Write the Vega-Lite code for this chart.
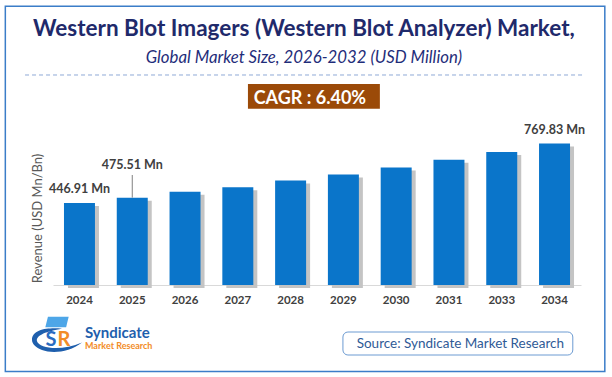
{
  "$schema": "https://vega.github.io/schema/vega-lite/v6.json",
  "width": 528,
  "height": 147,
  "autosize": {"type": "none"},
  "padding": {"left": 53, "top": 138, "right": 31, "bottom": 92},
  "background": "white",
  "config": {"view": {"stroke": null}, "font": "Lato"},
  "data": {
    "values": [
      {"year": "2024", "value": 446.91, "label": "446.91 Mn"},
      {"year": "2025", "value": 475.51, "label": "475.51 Mn"},
      {"year": "2026", "value": 507},
      {"year": "2027", "value": 532},
      {"year": "2028", "value": 569},
      {"year": "2029", "value": 601},
      {"year": "2030", "value": 640},
      {"year": "2031", "value": 681},
      {"year": "2033", "value": 724},
      {"year": "2034", "value": 769.83, "label": "769.83 Mn"}
    ]
  },
  "encoding": {
    "x": {
      "field": "year", "type": "nominal",
      "scale": {"domain": ["2024","2025","2026","2027","2028","2029","2030","2031","2033","2034"], "paddingInner": 0.413, "paddingOuter": 0.208},
      "axis": {"title": null, "labelAngle": 0, "labelFont": "Lato", "labelFontSize": 11.5, "labelFontWeight": "bold", "labelColor": "#404040", "ticks": false, "domainColor": "#d9d9d9", "labelPadding": 9, "grid": false}
    },
    "y": {
      "field": "value", "type": "quantitative",
      "scale": {"domain": [0, 800], "nice": false},
      "axis": {"title": "Revenue (USD Mn/Bn)", "labels": false, "ticks": false, "domain": false, "grid": false, "titleFont": "Lato", "titleFontSize": 13, "titleFontWeight": "normal", "titleColor": "#595959", "titleX": -16, "titleY": 80, "titleAngle": 270, "titleAlign": "center", "titleBaseline": "middle"}
    }
  },
  "layer": [
    {"mark": {"type": "bar", "color": "#c4c4c4", "xOffset": 4, "yOffset": 3}},
    {"mark": {"type": "bar", "color": "#0a75ca"}},
    {
      "transform": [{"filter": {"field": "year", "oneOf": ["2024", "2034"]}}],
      "mark": {"type": "text", "font": "Lato", "fontSize": 12.5, "fontWeight": "bold", "color": "#404040", "baseline": "alphabetic", "dy": -9.5},
      "encoding": {"text": {"field": "label"}}
    },
    {
      "transform": [{"filter": {"field": "year", "equal": "2025"}}],
      "mark": {"type": "text", "font": "Lato", "fontSize": 12.5, "fontWeight": "bold", "color": "#404040", "baseline": "alphabetic", "dy": -28.5},
      "encoding": {"text": {"field": "label"}}
    },
    {
      "transform": [{"filter": {"field": "year", "equal": "2025"}}],
      "mark": {"type": "rule", "color": "#808080", "strokeWidth": 1},
      "encoding": {"y2": {"datum": 598.6}}
    },
    {
      "transform": [{"filter": {"field": "year", "equal": "2024"}}],
      "mark": {"type": "rect", "fill": "transparent", "stroke": "#3b7dc8", "strokeWidth": 1.5},
      "encoding": {
        "x": {"datum": "2024", "type": "nominal", "bandPosition": -1.893},
        "x2": {"datum": "2034", "bandPosition": 2.123},
        "y": {"datum": 1516.7, "type": "quantitative"},
        "y2": {"datum": -470.8}
      }
    },
    {
      "transform": [{"filter": {"field": "year", "equal": "2024"}}],
      "mark": {"type": "text", "font": "Lato", "fontSize": 22.5, "fontWeight": "bold", "color": "#1f2a6b", "align": "center", "baseline": "alphabetic"},
      "encoding": {
        "x": {"datum": "2028", "type": "nominal", "bandPosition": 0.93},
        "y": {"datum": 1355, "type": "quantitative"},
        "text": {"value": "Western Blot Imagers (Western Blot Analyzer) Market,"}
      }
    },
    {
      "transform": [{"filter": {"field": "year", "equal": "2024"}}],
      "mark": {"type": "text", "font": "Lato", "fontSize": 16.8, "fontStyle": "italic", "color": "#1f2d7a", "align": "center", "baseline": "alphabetic"},
      "encoding": {
        "x": {"datum": "2028", "type": "nominal", "bandPosition": 0.93},
        "y": {"datum": 1208, "type": "quantitative"},
        "text": {"value": "Global Market Size, 2026-2032 (USD Million)"}
      }
    },
    {
      "transform": [{"filter": {"field": "year", "equal": "2024"}}],
      "mark": {"type": "rule", "color": "#8fa9d6", "strokeWidth": 1, "strokeDash": [4, 3]},
      "encoding": {
        "x": {"datum": "2024", "type": "nominal", "bandPosition": -1.257},
        "x2": {"datum": "2034", "bandPosition": 1.414},
        "y": {"datum": 1142.9, "type": "quantitative"}
      }
    },
    {
      "transform": [{"filter": {"field": "year", "equal": "2024"}}],
      "mark": {"type": "rect", "fill": "#9b4a08"},
      "encoding": {
        "x": {"datum": "2028", "type": "nominal", "bandPosition": -0.877},
        "x2": {"datum": "2028", "bandPosition": 3.381},
        "y": {"datum": 1093.9, "type": "quantitative"},
        "y2": {"datum": 959.5}
      }
    },
    {
      "transform": [{"filter": {"field": "year", "equal": "2024"}}],
      "mark": {"type": "text", "font": "Lato", "fontSize": 18, "fontWeight": "bold", "color": "#ffffff", "align": "center", "baseline": "alphabetic"},
      "encoding": {
        "x": {"datum": "2028", "type": "nominal", "bandPosition": 1.123},
        "y": {"datum": 985.0, "type": "quantitative"},
        "text": {"value": "CAGR :  6.40%"}
      }
    },
    {
      "transform": [{"filter": {"field": "year", "equal": "2024"}}],
      "mark": {"type": "point", "filled": true, "opacity": 1, "color": "#1f5fad", "size": 2500, "shape": "M -1 0 C -1 -0.45 -0.3 -0.5 0.2 -0.45 C -0.4 -0.35 -0.85 -0.2 -0.8 0.05 C -0.7 0.35 0.2 0.45 1 0.1 C 0.5 0.5 -0.2 0.55 -0.6 0.4 C -0.85 0.3 -1 0.15 -1 0 Z"},
      "encoding": {
        "x": {"datum": "2024", "type": "nominal", "bandPosition": -0.225},
        "y": {"datum": -299.3, "type": "quantitative"}
      }
    },
    {
      "transform": [{"filter": {"field": "year", "equal": "2024"}}],
      "mark": {"type": "point", "filled": true, "opacity": 1, "color": "#4da6e8", "size": 676, "shape": "M -0.7 -0.4 L 0.9 -0.4 L 0.7 0.4 L -0.9 0.4 Z"},
      "encoding": {
        "x": {"datum": "2024", "type": "nominal", "bandPosition": -0.225},
        "y": {"datum": -201.4, "type": "quantitative"}
      }
    },
    {
      "transform": [{"filter": {"field": "year", "equal": "2024"}}],
      "mark": {"type": "text", "font": "Lato", "fontSize": 20, "fontWeight": "bold", "color": "#2a6cc0", "align": "center", "baseline": "alphabetic"},
      "encoding": {
        "x": {"datum": "2024", "type": "nominal", "bandPosition": -0.419},
        "y": {"datum": -332, "type": "quantitative"},
        "text": {"value": "S"}
      }
    },
    {
      "transform": [{"filter": {"field": "year", "equal": "2024"}}],
      "mark": {"type": "text", "font": "Lato", "fontSize": 20, "fontWeight": "bold", "color": "#f28c28", "align": "center", "baseline": "alphabetic"},
      "encoding": {
        "x": {"datum": "2024", "type": "nominal", "bandPosition": 0.001},
        "y": {"datum": -332, "type": "quantitative"},
        "text": {"value": "R"}
      }
    },
    {
      "transform": [{"filter": {"field": "year", "equal": "2024"}}],
      "mark": {"type": "text", "font": "Lato", "fontSize": 15, "fontWeight": "bold", "color": "#1f5fad", "align": "left", "baseline": "alphabetic"},
      "encoding": {
        "x": {"datum": "2024", "type": "nominal", "bandPosition": 0.678},
        "y": {"datum": -288.4, "type": "quantitative"},
        "text": {"value": "Syndicate"}
      }
    },
    {
      "transform": [{"filter": {"field": "year", "equal": "2024"}}],
      "mark": {"type": "text", "font": "Lato", "fontSize": 9, "fontWeight": "bold", "color": "#f28c28", "align": "left", "baseline": "alphabetic"},
      "encoding": {
        "x": {"datum": "2024", "type": "nominal", "bandPosition": 0.678},
        "y": {"datum": -348.3, "type": "quantitative"},
        "text": {"value": "Market Research"}
      }
    },
    {
      "transform": [{"filter": {"field": "year", "equal": "2024"}}],
      "mark": {"type": "rect", "fill": "#ffffff", "stroke": "#6c9bd2", "strokeWidth": 1, "cornerRadius": 5},
      "encoding": {
        "x": {"datum": "2031", "type": "nominal", "bandPosition": -2.922},
        "x2": {"datum": "2031", "bandPosition": 4.497},
        "y": {"datum": -255.8, "type": "quantitative"},
        "y2": {"datum": -381.0}
      }
    },
    {
      "transform": [{"filter": {"field": "year", "equal": "2024"}}],
      "mark": {"type": "text", "font": "Lato", "fontSize": 13.5, "color": "#2f5a96", "align": "center", "baseline": "middle"},
      "encoding": {
        "x": {"datum": "2031", "type": "nominal", "bandPosition": 0.868},
        "y": {"datum": -318.4, "type": "quantitative"},
        "text": {"value": "Source: Syndicate Market Research"}
      }
    }
  ]
}
